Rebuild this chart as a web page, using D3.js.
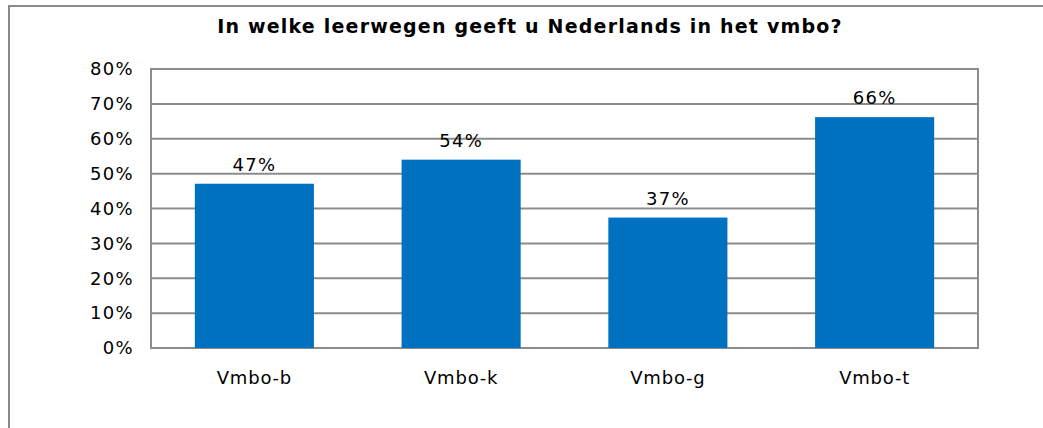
<!DOCTYPE html>
<html>
<head>
<meta charset="utf-8">
<script src="https://cdn.jsdelivr.net/npm/d3@7"></script>
<style>
  body { margin: 0; background: #fff; }
  text { font-family: "DejaVu Sans", Verdana, sans-serif; fill: #000; }
</style>
</head>
<body>
<div id="chart"></div>
<script>
// data
var categories = ["Vmbo-b", "Vmbo-k", "Vmbo-g", "Vmbo-t"];
var values = [47.1, 54.0, 37.4, 66.2];
var valueLabels = ["47%", "54%", "37%", "66%"];
var yTicks = [0, 10, 20, 30, 40, 50, 60, 70, 80];
var title = "In welke leerwegen geeft u Nederlands in het vmbo?";

var svgWidth = 1043, svgHeight = 428;
var plot = { left: 151, right: 978, top: 69, bottom: 348 };

var svg = d3.select("#chart").append("svg")
    .attr("width", svgWidth)
    .attr("height", svgHeight);

// outer frame (runs off the picture on the right and bottom)
svg.append("rect")
    .attr("x", 9).attr("y", 6)
    .attr("width", 1100).attr("height", 500)
    .attr("fill", "none")
    .attr("stroke", "#8a8a8a")
    .attr("stroke-width", 2);

svg.append("text")
    .attr("x", 530).attr("y", 33)
    .attr("text-anchor", "middle")
    .attr("font-size", 19)
    .attr("font-weight", "bold")
    .attr("letter-spacing", 1.2)
    .text(title);

var x = d3.scaleBand()
    .domain(categories)
    .range([plot.left, plot.right])
    .paddingInner(0.424)
    .paddingOuter(0.212);

var y = d3.scaleLinear()
    .domain([0, 80])
    .range([plot.bottom, plot.top]);

// gridlines
svg.append("g").selectAll("line")
    .data(yTicks)
    .enter().append("line")
    .attr("x1", plot.left).attr("x2", plot.right)
    .attr("y1", d => y(d)).attr("y2", d => y(d))
    .attr("stroke", "#8c8c8c")
    .attr("stroke-width", 2);

// right border of the plot
svg.append("line")
    .attr("x1", plot.right).attr("x2", plot.right)
    .attr("y1", plot.top - 1).attr("y2", plot.bottom + 1)
    .attr("stroke", "#8c8c8c")
    .attr("stroke-width", 2);

// bars
svg.append("g").selectAll("rect")
    .data(values)
    .enter().append("rect")
    .attr("x", (d, i) => x(categories[i]))
    .attr("y", d => y(d))
    .attr("width", x.bandwidth())
    .attr("height", d => y(0) - y(d))
    .attr("fill", "#0070c0");

// value labels
svg.append("g").selectAll("text")
    .data(values)
    .enter().append("text")
    .attr("x", (d, i) => x(categories[i]) + x.bandwidth() / 2)
    .attr("y", d => y(d) - 13)
    .attr("text-anchor", "middle")
    .attr("font-size", 18)
    .attr("letter-spacing", 1.3)
    .text((d, i) => valueLabels[i]);

// y axis
var yAxis = d3.axisLeft(y)
    .tickValues(yTicks)
    .tickFormat(d => d + "%")
    .tickSize(0)
    .tickPadding(17);

var gy = svg.append("g")
    .attr("transform", `translate(${plot.left}, 0)`)
    .call(yAxis);
gy.select(".domain")
    .attr("stroke", "#8c8c8c")
    .attr("stroke-width", 2)
    .attr("d", `M0,${plot.top - 1}V${plot.bottom + 1}`);
gy.selectAll("text")
    .attr("font-size", 18)
    .attr("letter-spacing", 1.3)
    .attr("font-family", "DejaVu Sans, Verdana, sans-serif")
    .attr("fill", "#000");

// x axis labels
var xAxis = d3.axisBottom(x).tickSize(0).tickPadding(23);
var gx = svg.append("g")
    .attr("transform", `translate(0, ${plot.bottom})`)
    .call(xAxis);
gx.select(".domain").remove();
gx.selectAll("text")
    .attr("font-size", 18)
    .attr("letter-spacing", 0.8)
    .attr("font-family", "DejaVu Sans, Verdana, sans-serif")
    .attr("fill", "#000");
</script>
</body>
</html>
